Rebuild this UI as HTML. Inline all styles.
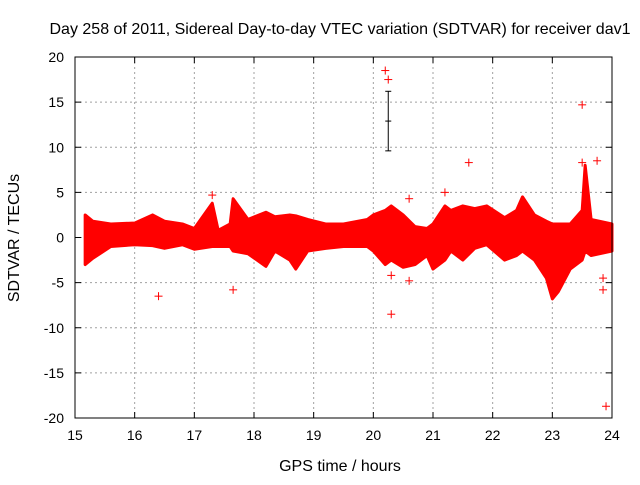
<!DOCTYPE html>
<html><head><meta charset="utf-8"><style>
body{margin:0;background:#fff}
svg text{font-family:"Liberation Sans",sans-serif;font-size:14px;fill:#000}
svg text.big{font-size:16px}
</style></head><body>
<svg id="c" width="640" height="480"></svg>
<script>
const times=[15.17,15.3,15.6,16.0,16.3,16.5,16.8,17.0,17.3,17.4,17.6,17.65,17.9,18.2,18.35,18.6,18.7,18.9,19.2,19.5,19.9,20.0,20.2,20.3,20.5,20.7,20.9,21.0,21.2,21.3,21.5,21.7,21.9,22.2,22.4,22.5,22.7,22.9,23.0,23.1,23.3,23.5,23.55,23.65,24.0];
const upper=[2.5,1.8,1.5,1.6,2.5,1.8,1.5,1.0,3.8,0.8,1.5,4.3,2.0,2.8,2.3,2.5,2.4,2.0,1.5,1.5,2.0,2.5,3.0,3.5,2.5,1.2,1.0,1.5,3.5,3.0,3.5,3.2,3.5,2.2,3.0,4.5,2.5,1.8,1.5,1.5,1.5,3.0,8.0,2.0,1.5];
const lower=[-3.0,-2.3,-1.0,-0.8,-0.9,-1.2,-0.8,-1.3,-1.0,-1.0,-1.0,-1.5,-1.8,-3.2,-1.5,-2.5,-3.5,-1.5,-1.2,-1.0,-1.0,-1.5,-3.0,-2.5,-3.3,-3.0,-2.0,-3.5,-2.5,-1.5,-2.5,-1.2,-0.8,-2.5,-2.0,-1.5,-2.5,-4.5,-6.8,-6.0,-3.5,-2.5,-1.5,-2.0,-1.5];
const outX=[16.4,17.65,17.3,20.2,20.25,20.3,20.3,21.6,23.5,23.75,23.9,23.85,23.85,20.6,20.6,21.2,23.5];
const outY=[-6.5,-5.8,4.7,18.5,17.5,-8.5,-4.2,8.3,14.7,8.5,-18.7,-5.8,-4.5,-4.8,4.3,5.0,8.3];
const errX=[20.25], errY=[12.9], errLo=[9.6], errHi=[16.2];
const xTicks=[15,16,17,18,19,20,21,22,23,24];
const yTicks=[20,15,10,5,0,-5,-10,-15,-20];
const L=75,R=612,T=57,B=418;
const sx=v=>L+(v-15)/9*(R-L), sy=v=>B-(v+20)/40*(B-T);
const svg=document.getElementById('c');const NS='http://www.w3.org/2000/svg';
function mk(t,a,p){const e=document.createElementNS(NS,t);for(const k in a)e.setAttribute(k,a[k]);(p||svg).appendChild(e);return e;}
let e;
for(const x of xTicks){
 e=mk('line',{x1:sx(x),x2:sx(x),y1:T,y2:B,stroke:'#a0a0a0','stroke-dasharray':'2,3'});
 
 
 mk('line',{x1:sx(x),x2:sx(x),y1:B,y2:B-6,stroke:'#000'});mk('line',{x1:sx(x),x2:sx(x),y1:T,y2:T+6,stroke:'#000'});
 e=mk('text',{x:sx(x),y:B+22,'text-anchor':'middle'});e.textContent=x;
 
 
}
for(const y of yTicks){
 e=mk('line',{x1:L,x2:R,y1:sy(y),y2:sy(y),stroke:'#a0a0a0','stroke-dasharray':'2,3'});
 
 
 mk('line',{x1:L,x2:L+6,y1:sy(y),y2:sy(y),stroke:'#000'});mk('line',{x1:R,x2:R-6,y1:sy(y),y2:sy(y),stroke:'#000'});
 e=mk('text',{x:L-11,y:sy(y)+5,'text-anchor':'end'});e.textContent=y;
 
 
}
let pts=times.map((t,i)=>sx(t)+','+sy(upper[i])).concat(times.map((t,i)=>sx(t)+','+sy(lower[i])).reverse());
e=mk('polygon',{points:pts.join(' '),fill:'#f00',stroke:'#f00','stroke-width':3,'stroke-linejoin':'round'});


errX.forEach((x,i)=>{const g=mk('g',{stroke:'#000'});
 
 
 mk('line',{x1:sx(x),x2:sx(x),y1:sy(errLo[i]),y2:sy(errHi[i])},g);
 mk('line',{x1:sx(x)-3,x2:sx(x)+3,y1:sy(errLo[i]),y2:sy(errLo[i])},g);
 mk('line',{x1:sx(x)-3,x2:sx(x)+3,y1:sy(errHi[i]),y2:sy(errHi[i])},g);
 mk('line',{x1:sx(x)-3,x2:sx(x)+3,y1:sy(errY[i]),y2:sy(errY[i])},g);});
outX.forEach((x,i)=>{const g=mk('g',{stroke:'#f00'});
 
 
 const X=sx(x),Y=sy(outY[i]);
 mk('line',{x1:X-4,x2:X+4,y1:Y,y2:Y},g);mk('line',{x1:X,x2:X,y1:Y-4,y2:Y+4},g);});
e=mk('rect',{x:L,y:T,width:R-L,height:B-T,fill:'none',stroke:'#000'});


e=mk('text',{x:340,y:34,'text-anchor':'middle',class:'big'});e.textContent='Day 258 of 2011, Sidereal Day-to-day VTEC variation (SDTVAR) for receiver dav1';


e=mk('text',{x:340,y:471,'text-anchor':'middle',class:'big'});e.textContent='GPS time / hours';


e=mk('text',{x:19,y:238,'text-anchor':'middle',class:'big',transform:'rotate(-90 19 238)'});e.textContent='SDTVAR / TECUs';


</script></body></html>
